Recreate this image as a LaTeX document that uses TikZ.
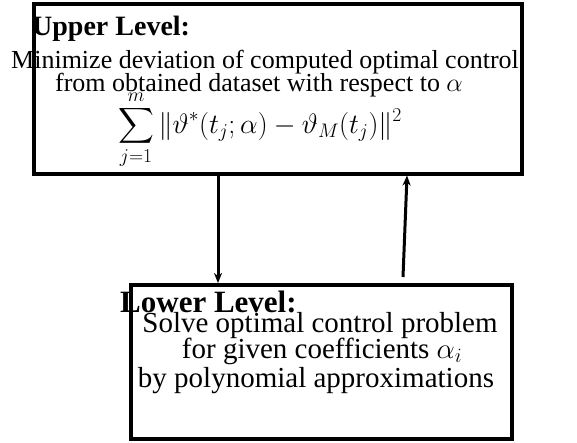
\RequirePackage{fix-cm}
\documentclass[tikz,border=0pt]{standalone}
\usepackage{amsmath}
\usepackage{fontspec}
\setmainfont{Liberation Serif}
\usetikzlibrary{arrows.meta}
\begin{document}
\begin{tikzpicture}[x=1pt,y=-1pt,
  box/.style={draw,line width=3.5pt,inner sep=0pt,anchor=north west},
  head/.style={inner sep=0pt,anchor=base west},
  body/.style={inner sep=0pt,anchor=base},
  link/.style={line width=3pt,-{Stealth[length=10pt,width=8pt,inset=3pt]}}]
\useasboundingbox (0,0) rectangle (577,442);
\node[box,minimum width=488pt,minimum height=170pt] (up) at (32,2) {};
\node[box,minimum width=381pt,minimum height=154pt] (lo) at (129,283) {};
% upper text
\node[head,font=\fontsize{28}{30}\selectfont\bfseries] (uh) at (32,35) {Upper Level:};
\node[body,font=\fontsize{26}{28}\selectfont] (u1) at (265,68) {Minimize deviation of computed optimal control};
\node[body,font=\fontsize{26}{28}\selectfont] (u2) at (259,91) {from obtained dataset with respect to $\alpha$};
\node[body,font=\fontsize{28}{30}\selectfont] (u3) at (260,133) {$\displaystyle\sum_{j=1}^{m}\|\vartheta^*(t_j;\alpha)-\vartheta_M(t_j)\|^2$};
% lower text
\node[head,font=\fontsize{31}{33}\selectfont\bfseries] (lh) at (120,312) {Lower Level:};
\node[body,font=\fontsize{29}{31}\selectfont] (l1) at (320,332) {Solve optimal control problem};
\node[body,font=\fontsize{29}{31}\selectfont] (l2) at (322,358) {for given coefficients $\alpha_i$};
\node[body,font=\fontsize{29}{31}\selectfont] (l3) at (316,387) {by polynomial approximations};
% connectors
\coordinate (a1) at (218,172);
\coordinate (a2) at (218,283);
\coordinate (b1) at (403,277);
\coordinate (b2) at (407,172);
\draw[link] (up.south -| a1) -- (lo.north -| a2);
\draw[link] (b1) -- (up.south -| b2);
\end{tikzpicture}
\end{document}
